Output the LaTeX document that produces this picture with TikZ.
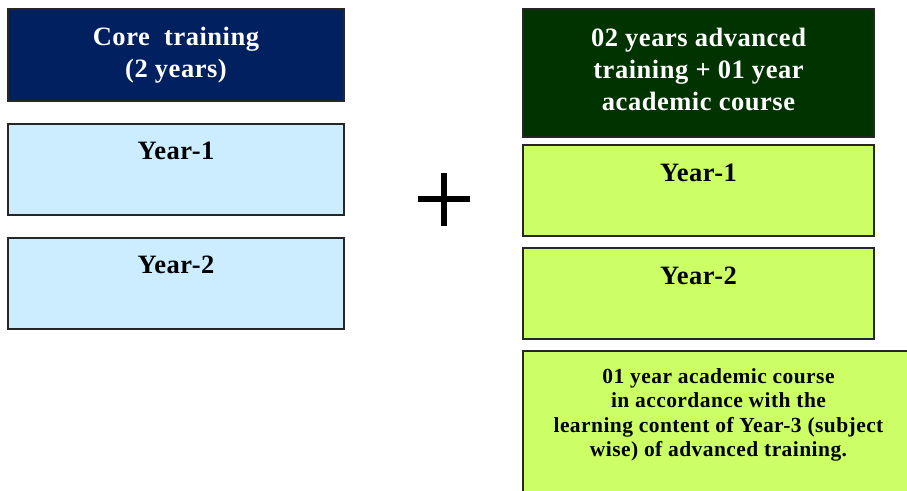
\documentclass[tikz,border=0pt]{standalone}
\usepackage{fontspec}
\setmainfont{Liberation Serif}[LetterSpace=2]
\definecolor{coreblue}{HTML}{002060}
\definecolor{advgreen}{HTML}{003300}
\definecolor{paleblue}{HTML}{CCECFF}
\definecolor{limegreen}{HTML}{CCFF66}
\tikzstyle{corehead}=[rectangle,fill=coreblue,draw=black!85,line width=1.5pt,minimum width=336pt,minimum height=92pt,inner sep=0pt]
\tikzstyle{corebox}=[rectangle,fill=paleblue,draw=black!85,line width=1.5pt,minimum width=336pt,minimum height=91pt,inner sep=0pt]
\tikzstyle{advhead}=[rectangle,fill=advgreen,draw=black!85,line width=1.5pt,minimum width=351pt,minimum height=128pt,inner sep=0pt]
\tikzstyle{advbox}=[rectangle,fill=limegreen,draw=black!85,line width=1.5pt,minimum width=351pt,minimum height=91pt,inner sep=0pt]
\tikzstyle{headtext}=[text=white,align=center,inner sep=0pt,font=\fontsize{26.5}{32}\selectfont\bfseries]
\tikzstyle{yeartext}=[anchor=base,inner sep=0pt,font=\fontsize{26.5}{30}\selectfont\bfseries]
\tikzstyle{coursetext}=[align=center,inner sep=0pt,font=\fontsize{21.5}{24.5}\selectfont\bfseries]

\begin{document}
\begin{tikzpicture}[x=1pt,y=-1pt]
\clip (0,0) rectangle (907,490);
% core training column
\node[corehead] at (176,55) (core) {};
\node[corebox] at (176,169.5) (cy1) {};
\node[corebox] at (176,283.5) (cy2) {};
\node[headtext] at (core.center) (coret) {Core\ \ training\\(2 years)};
\node[yeartext] at ([yshift=-36pt]cy1.north) (cy1t) {Year-1};
\node[yeartext] at ([yshift=-36pt]cy2.north) (cy2t) {Year-2};
% plus sign
\draw[line width=6.5pt] (418,199) -- (470,199);
\draw[line width=6.5pt] (444,173) -- (444,226);
% advanced training column
\node[advhead] at (698.5,73) (adv) {};
\node[advbox] at (698.5,190.5) (ay1) {};
\node[advbox] at (698.5,293.5) (ay2) {};
\node[advbox,minimum width=392pt,minimum height=154pt] at (719,428) (course) {};
\node[headtext] at ([yshift=4pt]adv.center) (advt) {02 years advanced\\training + 01 year\\academic course};
\node[yeartext] at ([yshift=-37pt]ay1.north) (ay1t) {Year-1};
\node[yeartext] at ([yshift=-37pt]ay2.north) (ay2t) {Year-2};
\node[coursetext] at (718.5,415) (courset) {01 year academic course\\in accordance with the\\learning content of Year-3 (subject\\wise) of advanced training.};
\end{tikzpicture}
\end{document}
